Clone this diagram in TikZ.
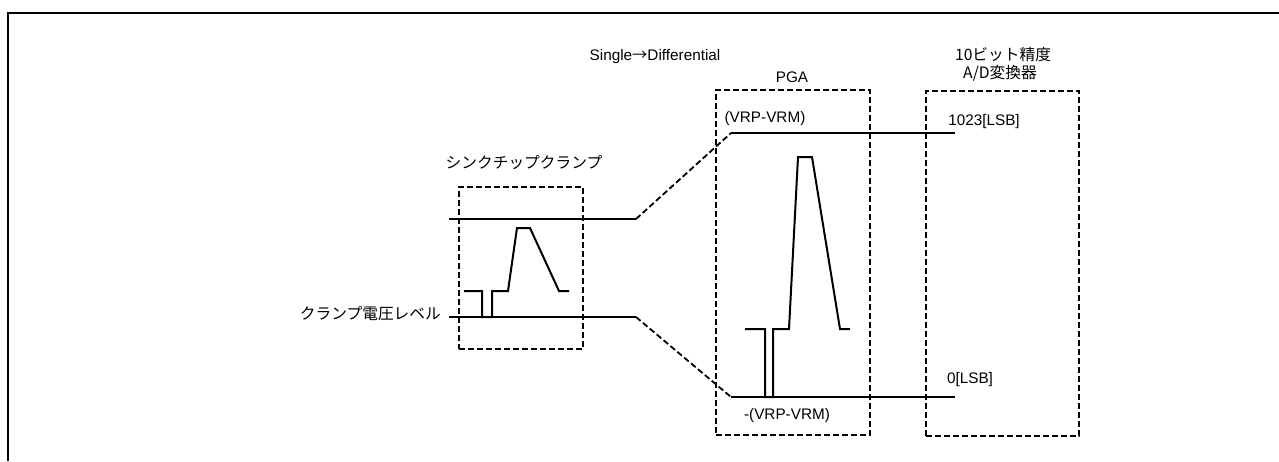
\documentclass[tikz,border=0pt]{standalone}
\usepackage{fontspec}
\setmainfont{Liberation Sans}
\newfontfamily\jp{Noto Sans CJK JP}
\begin{document}
\begin{tikzpicture}[x=1pt,y=-1pt,
  dbox/.style={draw,dash pattern=on 6pt off 3pt,line width=1.8pt,minimum width=#1,inner sep=0pt},
  thinline/.style={line width=1.2pt},
  wave/.style={line width=2pt,line join=miter},
  dline/.style={line width=1.8pt,dash pattern=on 6pt off 3pt},
  lbl/.style={font=\fontsize{15.3}{17}\selectfont,inner sep=0pt},
  jlbl/.style={font=\jp\fontsize{15.7}{17}\selectfont,inner sep=0pt}]
\useasboundingbox (0,0) rectangle (1279,461);
% frame
\draw[line width=2.8pt] (8,461) -- (8,13) -- (1279,13);
% boxes
\node[dbox=124pt,minimum height=162pt] (sync) at (521,268) {};
\node[dbox=154pt,minimum height=345pt] (pga) at (793,262.5) {};
\node[dbox=153pt,minimum height=345pt] (adc) at (1002.5,263.5) {};
% labels
\node[jlbl] (tsync) at (524,163) {シンクチップクランプ};
\node[lbl] (tsd) at (655,57) {Single{\jp →}Differential};
\node[lbl] (tpga) at (792,77) {PGA};
\node[jlbl] (tadc1) at (1003,55) {10ビット精度};
\node[jlbl] (tadc2) at (1000,73) {A/D変換器};
\node[lbl] (tvp) at (765,119) {(VRP-VRM)};
\node[lbl] (tvm) at (787,416) {-(VRP-VRM)};
\node[lbl] (t1023) at (984,122) {1023[LSB]};
\node[lbl] (t0) at (970,380) {0[LSB]};
\node[jlbl,anchor=east] (tclamp) at (441,314) {クランプ電圧レベル};
% level lines
\coordinate (u1) at (449,219);
\coordinate (u2) at (636,219);
\coordinate (u3) at (731,133);
\coordinate (u4) at (955,133);
\coordinate (l1) at (449,317);
\coordinate (l2) at (636,317);
\coordinate (l3) at (731,397);
\coordinate (l4) at (955,397);
\draw[thinline] (u1) -- (u2);
\draw[thinline] (l1) -- (l2);
\draw[thinline] (u3) -- (u4);
\draw[thinline] (l3) -- (l4);
\draw[dline] (u2) -- (u3);
\draw[dline] (l2) -- (l3);
% waveform small
\draw[wave] (464,291) -- (482,291) -- (482,317) -- (492,317) -- (492,291) -- (508,291)
  -- (517,228) -- (530,228) -- (559,291) -- (569,291);
% waveform PGA
\draw[wave] (745,329) -- (765,329) -- (765,397) -- (773,397) -- (773,329) -- (789,329)
  -- (798,157) -- (812,157) -- (840,329) -- (850,329);
\end{tikzpicture}
\end{document}
